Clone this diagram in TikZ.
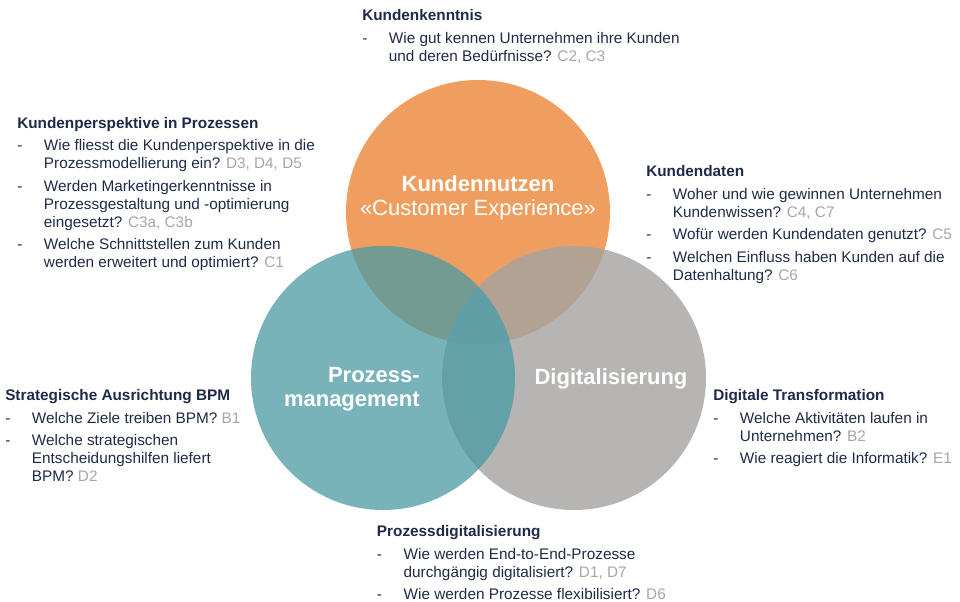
\documentclass[tikz,border=0pt]{standalone}
\usepackage{fontspec}
\setmainfont{Liberation Sans}
\definecolor{orangeC}{HTML}{F09E5F}
\definecolor{tealC}{HTML}{79B3BA}
\definecolor{grayC}{HTML}{B6B5B3}
\definecolor{toC}{HTML}{739B91}
\definecolor{ogC}{HTML}{B2A294}
\definecolor{tgC}{HTML}{64A0A7}
\definecolor{cenC}{HTML}{609FA5}
\definecolor{navy}{HTML}{1F2A48}
\definecolor{refgray}{HTML}{A6A6A6}
\newlength\itemgap
\setlength\itemgap{3.4pt}
\newcommand\refs[1]{\textcolor{refgray}{#1}}
\newcommand\bitem[1]{\par\vskip\itemgap\hangindent=20pt\hangafter=1\noindent\makebox[20pt][l]{-}#1}
\newcommand\blk[2]{\vtop{\hsize=270pt\parindent=0pt\parskip=0pt\fontsize{11.5}{13.5}\selectfont\noindent\textbf{#1}#2\par}}
\begin{document}
\begin{tikzpicture}[x=0.75pt,y=-0.75pt,
  txt/.style={anchor=base west,inner sep=0pt,text=navy},
  lbl/.style={inner sep=0pt,text=white,font=\fontsize{16.5}{18}\selectfont\bfseries},
  lblr/.style={inner sep=0pt,text=white,font=\fontsize{16.5}{18}\selectfont}]
\useasboundingbox (0,0) rectangle (960,601);
\coordinate (O) at (478,212);
\coordinate (T) at (383,378);
\coordinate (G) at (574,378);
\def\R{99pt}
\fill[orangeC] (O) circle[radius=\R];
\fill[tealC] (T) circle[radius=\R];
\fill[grayC] (G) circle[radius=\R];
\begin{scope}\clip (O) circle[radius=\R]; \fill[toC] (T) circle[radius=\R];\end{scope}
\begin{scope}\clip (O) circle[radius=\R]; \fill[ogC] (G) circle[radius=\R];\end{scope}
\begin{scope}\clip (T) circle[radius=\R]; \fill[tgC] (G) circle[radius=\R];\end{scope}
\begin{scope}\clip (O) circle[radius=\R]; \clip (T) circle[radius=\R]; \fill[cenC] (G) circle[radius=\R];\end{scope}
% circle labels
\node[lbl,anchor=base] (kn) at (478,191.7) {Kundennutzen};
\node[lblr,anchor=base] (ce) at (478,215) {«Customer Experience»};
\node[lbl,anchor=base east] (pz) at (420,382.7) {Prozess-};
\node[lbl,anchor=base east] (mg) at (420,406) {management};
\node[lbl,anchor=base] (dg) at (611,384) {Digitalisierung};
% text blocks
\node[txt] (b1) at (362,20.7) {\blk{Kundenkenntnis}{%
  \bitem{Wie gut kennen Unternehmen ihre Kunden\newline und deren Bedürfnisse? \refs{C2, C3}}}};
\node[txt] (b2) at (17,128.3) {\blk{Kundenperspektive in Prozessen}{%
  \bitem{Wie fliesst die Kundenperspektive in die\newline Prozessmodellierung ein? \refs{D3, D4, D5}}%
  \bitem{Werden Marketingerkenntnisse in\newline Prozessgestaltung und -optimierung\newline eingesetzt? \refs{C3a, C3b}}%
  \bitem{Welche Schnittstellen zum Kunden\newline werden erweitert und optimiert? \refs{C1}}}};
\node[txt] (b3) at (646,176.7) {\blk{Kundendaten}{%
  \bitem{Woher und wie gewinnen Unternehmen\newline Kundenwissen? \refs{C4, C7}}%
  \bitem{Wofür werden Kundendaten genutzt? \refs{C5}}%
  \bitem{Welchen Einfluss haben Kunden auf die\newline Datenhaltung? \refs{C6}}}};
\node[txt] (b4) at (5,400.7) {\blk{Strategische Ausrichtung BPM}{%
  \bitem{Welche Ziele treiben BPM? \refs{B1}}%
  \bitem{Welche strategischen\newline Entscheidungshilfen liefert\newline BPM? \refs{D2}}}};
\node[txt] (b5) at (713,400.7) {\blk{Digitale Transformation}{%
  \bitem{Welche Aktivitäten laufen in\newline Unternehmen? \refs{B2}}%
  \bitem{Wie reagiert die Informatik? \refs{E1}}}};
\node[txt] (b6) at (376.7,536.7) {\blk{Prozessdigitalisierung}{%
  \bitem{Wie werden End-to-End-Prozesse\newline durchgängig digitalisiert? \refs{D1, D7}}%
  \bitem{Wie werden Prozesse flexibilisiert? \refs{D6}}}};
\end{tikzpicture}
\end{document}
